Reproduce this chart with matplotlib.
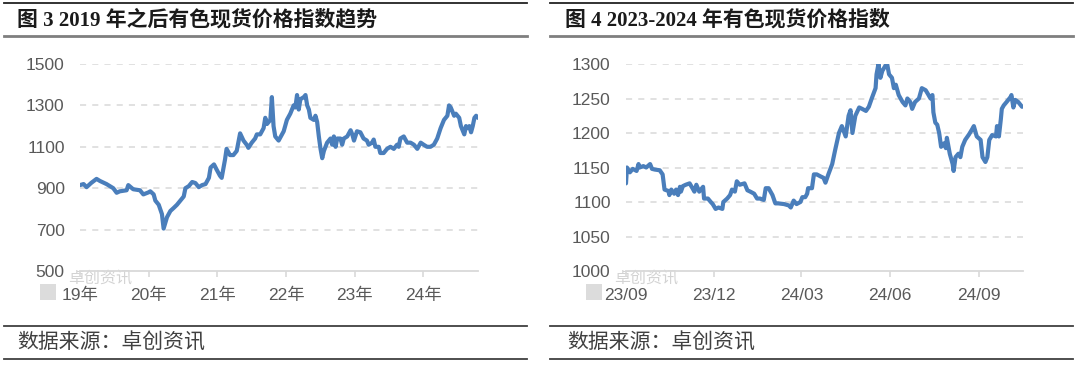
import matplotlib
matplotlib.use("Agg")
import matplotlib.pyplot as plt
from matplotlib.lines import Line2D
from matplotlib.patches import Rectangle
import pandas as pd

# ---------------- data ----------------
left_title = "图 3 2019 年之后有色现货价格指数趋势"
right_title = "图 4 2023-2024 年有色现货价格指数"
source_text = "数据来源：卓创资讯"

left_dates = [
    "2019-01-01", "2019-01-20", "2019-02-05", "2019-03-01", "2019-03-30", "2019-04-17",
    "2019-05-22", "2019-06-27", "2019-07-15", "2019-08-01", "2019-09-06", "2019-09-15",
    "2019-10-11", "2019-11-16", "2019-12-04", "2020-01-01", "2020-01-10", "2020-01-28",
    "2020-02-06", "2020-02-24", "2020-03-12", "2020-03-21", "2020-04-08", "2020-04-26",
    "2020-05-14", "2020-05-31", "2020-06-18", "2020-07-06", "2020-07-15", "2020-08-02",
    "2020-08-20", "2020-09-06", "2020-09-24", "2020-10-12", "2020-10-30", "2020-11-17",
    "2020-11-26", "2020-12-14", "2020-12-28", "2021-01-15", "2021-01-24", "2021-02-11",
    "2021-02-19", "2021-03-09", "2021-03-27", "2021-04-14", "2021-05-02", "2021-05-20",
    "2021-06-06", "2021-06-15", "2021-07-03", "2021-07-21", "2021-07-30", "2021-08-17",
    "2021-09-04", "2021-09-13", "2021-09-22", "2021-10-10", "2021-10-18", "2021-10-27",
    "2021-11-05", "2021-11-23", "2021-12-11", "2021-12-20", "2022-01-06", "2022-01-24",
    "2022-02-11", "2022-02-20", "2022-03-01", "2022-03-10", "2022-03-19", "2022-04-06",
    "2022-04-15", "2022-04-24", "2022-05-03", "2022-05-11", "2022-05-29", "2022-06-07",
    "2022-06-16", "2022-06-25", "2022-07-04", "2022-07-13", "2022-07-22", "2022-08-08",
    "2022-08-26", "2022-09-04", "2022-09-13", "2022-09-22", "2022-10-01", "2022-10-18",
    "2022-10-27", "2022-11-05", "2022-11-23", "2022-12-11", "2022-12-20", "2022-12-29",
    "2023-01-05", "2023-01-14", "2023-02-01", "2023-02-18", "2023-03-08", "2023-03-17",
    "2023-04-04", "2023-04-13", "2023-04-22", "2023-05-10", "2023-05-18", "2023-06-05",
    "2023-06-23", "2023-07-11", "2023-07-29", "2023-08-15", "2023-08-24", "2023-09-02",
    "2023-09-20", "2023-10-08", "2023-10-26", "2023-11-13", "2023-12-01", "2023-12-19",
    "2024-01-04", "2024-01-22", "2024-02-09", "2024-02-27", "2024-03-16", "2024-04-03",
    "2024-04-21", "2024-05-09", "2024-05-18", "2024-05-27", "2024-06-14", "2024-06-23",
    "2024-07-11", "2024-07-20", "2024-08-07", "2024-08-16", "2024-08-25", "2024-09-03",
    "2024-09-12", "2024-09-21", "2024-09-30", "2024-10-09", "2024-10-18",
]
left_values = [
    915, 920, 905, 925, 945, 935,
    920, 900, 878, 885, 890, 915,
    895, 890, 870, 880, 885, 870,
    840, 820, 775, 705, 760, 790,
    805, 820, 840, 860, 900, 910,
    930, 925, 905, 915, 920, 950,
    1000, 1015, 990, 960, 950, 1040,
    1090, 1060, 1060, 1080, 1165, 1130,
    1110, 1095, 1120, 1140, 1160, 1160,
    1190, 1240, 1210, 1230, 1340, 1200,
    1150, 1130, 1160, 1175, 1230, 1260,
    1300, 1290, 1350, 1280, 1330, 1340,
    1350, 1300, 1280, 1240, 1230, 1250,
    1220, 1150, 1090, 1045, 1080, 1120,
    1140, 1110, 1150, 1100, 1140, 1140,
    1110, 1140, 1150, 1180, 1160, 1130,
    1150, 1175, 1170, 1140, 1130, 1110,
    1120, 1135, 1100, 1100, 1070, 1070,
    1090, 1100, 1090, 1110, 1100, 1140,
    1150, 1120, 1120, 1110, 1090, 1120,
    1110, 1100, 1100, 1110, 1140, 1190,
    1230, 1250, 1300, 1290, 1250, 1260,
    1240, 1200, 1160, 1200, 1190, 1200,
    1170, 1200, 1240, 1250, 1240,
]
left_ticks = ["2019-01-01", "2020-01-01", "2021-01-01", "2022-01-01", "2023-01-01", "2024-01-01"]
left_tick_labels = ["19年", "20年", "21年", "22年", "23年", "24年"]
left_yticks = [500, 700, 900, 1100, 1300, 1500]

right_dates = [
    "2023-09-01", "2023-09-02", "2023-09-05", "2023-09-08", "2023-09-12", "2023-09-14",
    "2023-09-15", "2023-09-19", "2023-09-22", "2023-09-26", "2023-09-28", "2023-10-01",
    "2023-10-06", "2023-10-09", "2023-10-11", "2023-10-15", "2023-10-16", "2023-10-18",
    "2023-10-21", "2023-10-23", "2023-10-25", "2023-10-27", "2023-10-28", "2023-10-30",
    "2023-11-02", "2023-11-06", "2023-11-09", "2023-11-11", "2023-11-13", "2023-11-16",
    "2023-11-20", "2023-11-21", "2023-11-25", "2023-11-28", "2023-11-30", "2023-12-03",
    "2023-12-06", "2023-12-10", "2023-12-11", "2023-12-15", "2023-12-18", "2023-12-20",
    "2023-12-23", "2023-12-25", "2023-12-28", "2024-01-02", "2024-01-05", "2024-01-08",
    "2024-01-12", "2024-01-15", "2024-01-18", "2024-01-22", "2024-01-24", "2024-01-27",
    "2024-01-31", "2024-02-03", "2024-02-06", "2024-02-12", "2024-02-17", "2024-02-19",
    "2024-02-22", "2024-02-25", "2024-02-29", "2024-03-02", "2024-03-05", "2024-03-07",
    "2024-03-08", "2024-03-12", "2024-03-14", "2024-03-17", "2024-03-21", "2024-03-24",
    "2024-03-26", "2024-03-29", "2024-04-02", "2024-04-05", "2024-04-09", "2024-04-12",
    "2024-04-16", "2024-04-19", "2024-04-21", "2024-04-23", "2024-04-26", "2024-04-30",
    "2024-05-03", "2024-05-07", "2024-05-10", "2024-05-13", "2024-05-17", "2024-05-18",
    "2024-05-20", "2024-05-22", "2024-05-24", "2024-05-27", "2024-05-29", "2024-05-31",
    "2024-06-03", "2024-06-05", "2024-06-07", "2024-06-10", "2024-06-14", "2024-06-17",
    "2024-06-19", "2024-06-22", "2024-06-24", "2024-06-27", "2024-07-01", "2024-07-04",
    "2024-07-08", "2024-07-11", "2024-07-13", "2024-07-15", "2024-07-16", "2024-07-18",
    "2024-07-20", "2024-07-22", "2024-07-24", "2024-07-27", "2024-07-29", "2024-07-30",
    "2024-08-02", "2024-08-05", "2024-08-06", "2024-08-08", "2024-08-11", "2024-08-13",
    "2024-08-15", "2024-08-18", "2024-08-22", "2024-08-25", "2024-08-27", "2024-08-30",
    "2024-09-03", "2024-09-05", "2024-09-08", "2024-09-10", "2024-09-12", "2024-09-15",
    "2024-09-19", "2024-09-20", "2024-09-22", "2024-09-24", "2024-09-25", "2024-09-27",
    "2024-09-30", "2024-10-04", "2024-10-05", "2024-10-07", "2024-10-09", "2024-10-12",
    "2024-10-16",
]
right_values = [
    1127, 1150, 1143, 1148, 1145, 1155,
    1150, 1152, 1150, 1155, 1148, 1147,
    1146, 1140, 1118, 1116, 1110, 1118,
    1112, 1118, 1110, 1122, 1115, 1123,
    1125, 1127, 1120, 1115, 1125, 1115,
    1122, 1105, 1105, 1100, 1097, 1090,
    1092, 1090, 1100, 1105, 1110, 1118,
    1115, 1130, 1125, 1127, 1117, 1115,
    1112, 1105, 1105, 1103, 1120, 1120,
    1110, 1098, 1098, 1097, 1095, 1092,
    1102, 1097, 1100, 1107, 1107, 1112,
    1120, 1120, 1140, 1140, 1137, 1135,
    1128, 1140, 1155, 1175, 1200, 1210,
    1195, 1225, 1233, 1200, 1225, 1237,
    1235, 1232, 1238, 1250, 1265, 1285,
    1300, 1280, 1290, 1297, 1300, 1285,
    1280, 1265, 1270, 1255, 1245, 1240,
    1250, 1245, 1235, 1245, 1250, 1265,
    1262, 1255, 1250, 1255, 1230, 1215,
    1212, 1200, 1180, 1185, 1178, 1193,
    1170, 1155, 1145, 1165, 1170, 1165,
    1180, 1190, 1198, 1205, 1210, 1195,
    1190, 1165, 1158, 1165, 1190, 1197,
    1195, 1210, 1195, 1220, 1235, 1240,
    1245, 1252, 1255, 1237, 1248, 1245,
    1238,
]
right_ticks = ["2023-09-01", "2023-12-01", "2024-03-01", "2024-06-01", "2024-09-01"]
right_tick_labels = ["23/09", "23/12", "24/03", "24/06", "24/09"]
right_yticks = [1000, 1050, 1100, 1150, 1200, 1250, 1300]

# ---------------- style ----------------
W, H = 1080, 366
LINE_C = "#4a7ebb"
GRID_C = "#d9d9d9"
TXT_C = "#595959"
TICK_FONT = ["Liberation Sans", "Noto Sans CJK SC"]
TITLE_FONT = ["Liberation Serif", "Noto Sans CJK SC"]

fig = plt.figure(figsize=(W / 100, H / 100), dpi=100)
fig.patch.set_facecolor("white")


def px_rect(x0, x1, ytop, ybot):
    return [x0 / W, 1 - ybot / H, (x1 - x0) / W, (ybot - ytop) / H]


def style_axes(ax, dates, values, xlim, ticks, tick_labels, yticks):
    ax.set_facecolor("none")
    ax.plot(pd.to_datetime(dates), values, color=LINE_C, lw=3.0,
            solid_joinstyle="round", solid_capstyle="round", zorder=3)
    ax.set_xlim(pd.to_datetime(xlim[0]), pd.to_datetime(xlim[1]))
    ax.set_ylim(yticks[0], yticks[-1])
    ax.set_yticks(yticks)
    ax.set_xticks(pd.to_datetime(ticks))
    ax.set_xticklabels(tick_labels)
    for lab in ax.get_xticklabels() + ax.get_yticklabels():
        lab.set_family(TICK_FONT)
        lab.set_fontsize(12.5)
        lab.set_color(TXT_C)
    for y in yticks[1:]:
        ax.axhline(y, color=GRID_C, lw=1.1, dashes=(4, 4), zorder=1)
    for s in ["top", "right", "left"]:
        ax.spines[s].set_visible(False)
    ax.spines["bottom"].set_color(GRID_C)
    ax.spines["bottom"].set_linewidth(1.3)
    ax.tick_params(axis="x", length=4, width=1.2, color=GRID_C, pad=8)
    ax.tick_params(axis="y", length=0, pad=11)


# faint watermark logos (drawn under the axes)
for x0 in (40, 586):
    fig.add_artist(Rectangle(((x0) / W, 1 - 300 / H), 16 / W, 16 / H,
                             transform=fig.transFigure, facecolor="#dcdcdc",
                             edgecolor="none", zorder=-2))
    fig.text((x0 + 28) / W, 1 - 278 / H, "卓创资讯", family=["Noto Sans CJK SC"],
             fontsize=11.5, color="#d3d3d3", va="center", ha="left", zorder=-1)

ax1 = fig.add_axes(px_rect(80, 478, 64, 271))
style_axes(ax1, left_dates, left_values, ("2019-01-01", "2024-10-19"),
           left_ticks, left_tick_labels, left_yticks)

ax2 = fig.add_axes(px_rect(626, 1023, 64, 271))
style_axes(ax2, right_dates, right_values, ("2023-09-01", "2024-10-17"),
           right_ticks, right_tick_labels, right_yticks)

# titles
fig.text(17 / W, 1 - 20 / H, left_title, family=TITLE_FONT, fontsize=15,
         fontweight="bold", color="#1a1a1a", va="center", ha="left")
fig.text(565 / W, 1 - 20 / H, right_title, family=TITLE_FONT, fontsize=15,
         fontweight="bold", color="#1a1a1a", va="center", ha="left")

# sources
for x0 in (17, 567):
    fig.text(x0 / W, 1 - 343 / H, source_text, family=["Noto Sans CJK SC"],
             fontsize=15, fontweight="light", color="#404040", va="center", ha="left")

# rules
for (xa, xb) in ((4, 527), (550, 1073)):
    fig.add_artist(Line2D([xa / W, xb / W], [1 - 3 / H] * 2, color="#222222", lw=1.3))
    fig.add_artist(Line2D([xa / W, xb / W], [1 - 36 / H] * 2, color="#7f7f7f", lw=2.0))
    fig.add_artist(Line2D([xa / W, xb / W], [1 - 326 / H] * 2, color="#404040", lw=1.3))
    fig.add_artist(Line2D([xa / W, xb / W], [1 - 359 / H] * 2, color="#404040", lw=1.3))

fig.savefig("out.png", dpi=100, facecolor="white")
